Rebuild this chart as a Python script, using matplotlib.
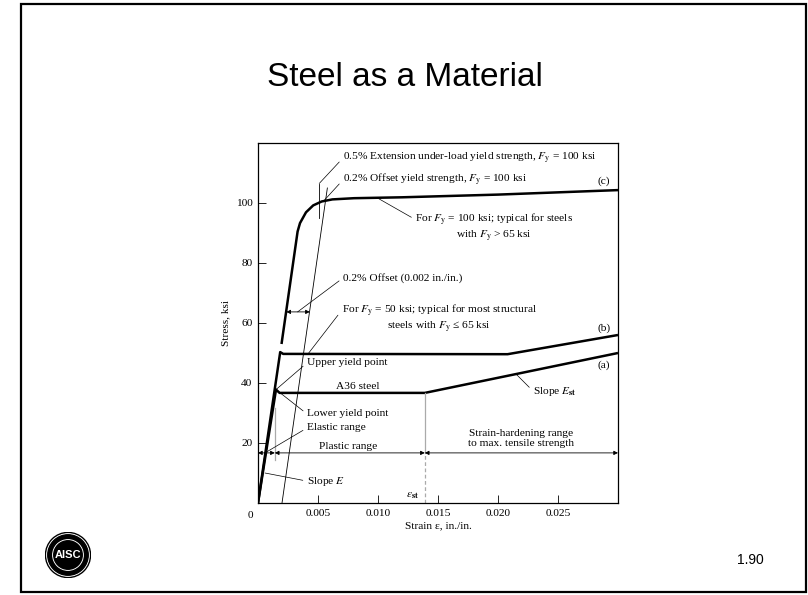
import matplotlib
matplotlib.use("Agg")
import matplotlib.pyplot as plt
from matplotlib.patches import Rectangle, Circle

plt.rcParams['font.family'] = ['Liberation Serif', 'DejaVu Serif']
plt.rcParams['mathtext.fontset'] = 'stix'

# stress-strain curves (strain in./in., stress ksi)
a36_strain = [0, 0.0015, 0.0018, 0.0139, 0.030]
a36_stress = [0, 37.8, 36.7, 36.7, 50.0]

fy50_strain = [0, 0.00185, 0.0021, 0.0208, 0.030]
fy50_stress = [0, 50.3, 49.7, 49.6, 56.0]

fy100_strain = [0.00196, 0.00330, 0.0035, 0.0040, 0.0046, 0.0053, 0.0062, 0.0080, 0.0120, 0.0200, 0.0300]
fy100_stress = [53.0, 90.5, 93.3, 96.9, 99.2, 100.5, 101.2, 101.6, 101.9, 102.8, 104.3]

offset_strain = [0.002, 0.00578]
offset_stress = [0, 105.0]

x_ticks = [0.005, 0.010, 0.015, 0.020, 0.025]
x_ticklabels = ['0.005', '0.010', '0.015', '0.020', '0.025']
y_ticks = [20, 40, 60, 80, 100]

eps_st = 0.0139
eps_el = 0.0014
range_y = 16.7

fig = plt.figure(figsize=(8.08, 5.95), dpi=100)

# slide frame
fig.patches.append(Rectangle((21 / 808, 3 / 595), 785 / 808, 588 / 595, transform=fig.transFigure,
                             fill=False, edgecolor='black', linewidth=1.6))
fig.text(405 / 808, 1 - 78 / 595, 'Steel as a Material', family='Liberation Sans',
         fontsize=24, ha='center', va='center')
fig.text(750 / 808, 1 - 560 / 595, '1.90', family='Liberation Sans', fontsize=10,
         ha='center', va='center')

# logo
lax = fig.add_axes([45 / 808, 1 - 578 / 595, 46 / 808, 46 / 595])
lax.set_xlim(-1, 1)
lax.set_ylim(-1, 1)
lax.set_aspect('equal')
lax.axis('off')
lax.add_patch(Circle((0, 0), 0.98, color='black'))
lax.add_patch(Circle((0, 0), 0.92, color='white'))
lax.add_patch(Circle((0, 0), 0.88, color='black'))
lax.add_patch(Circle((0, 0), 0.66, color='white'))
lax.add_patch(Circle((0, 0), 0.62, color='black'))
lax.text(0, -0.02, 'AISC', color='white', fontsize=8, fontweight='bold', family='Liberation Sans',
         ha='center', va='center')

ax = fig.add_axes([258 / 808, 1 - 503 / 595, 360 / 808, 360 / 595])
ax.set_xlim(0, 0.030)
ax.set_ylim(0, 120)

bold = dict(color='black', lw=1.8, solid_capstyle='butt', solid_joinstyle='round')
ax.plot(a36_strain, a36_stress, **bold)
ax.plot(fy50_strain, fy50_stress, **bold)
ax.plot(fy100_strain, fy100_stress, **bold)
ax.plot(offset_strain, offset_stress, color='black', lw=0.6)

# 0.5% extension marker
ax.plot([0.0051, 0.0051], [95, 106.5], color='black', lw=0.6)

# limit markers
ax.plot([eps_el, eps_el], [14.3, 31.7], color='#aaaaaa', lw=0.9)
ax.plot([eps_st, eps_st], [range_y, 36.7], color='#aaaaaa', lw=0.9)
ax.plot([eps_st, eps_st], [0, range_y], color='#aaaaaa', lw=0.9, ls=(0, (3, 2)))

# range arrows
arr = dict(arrowstyle='<|-|>', color='black', lw=0.6, mutation_scale=6, shrinkA=0, shrinkB=0)
ax.annotate('', xy=(0, range_y), xytext=(eps_el, range_y), arrowprops=arr)
ax.annotate('', xy=(eps_el, range_y), xytext=(eps_st, range_y), arrowprops=arr)
ax.annotate('', xy=(eps_st, range_y), xytext=(0.030, range_y), arrowprops=arr)
ax.annotate('', xy=(0.00236, 63.7), xytext=(0.00432, 63.7), arrowprops=arr)

fs = 8.2
lead = dict(arrowstyle='-', color='black', lw=0.5, shrinkA=1, shrinkB=0, relpos=(0, 0.5))

def note(txt, xy, xytext, ha='left', relpos=(0, 0.5)):
    p = dict(lead)
    p['relpos'] = relpos
    ax.annotate(txt, xy=xy, xytext=xytext, fontsize=fs, ha=ha, va='center',
                multialignment='center', linespacing=1.1, arrowprops=p)

note('0.5% Extension under-load yield strength, $F_{\\mathrm{y}}$ = 100 ksi', (0.0051, 106.5), (0.00708, 115))
note('0.2% Offset yield strength, $F_{\\mathrm{y}}$ = 100 ksi', (0.0055, 100.8), (0.00708, 107.7))
note('For $F_{\\mathrm{y}}$ = 100 ksi; typical for steels\nwith $F_{\\mathrm{y}}$ > 65 ksi', (0.0099, 101.8),
     (0.0197, 91.8), ha='center', relpos=(0, 0.75))
note('0.2% Offset (0.002 in./in.)', (0.0033, 63.7), (0.00708, 75))
note('For $F_{\\mathrm{y}}$ = 50 ksi; typical for most structural\nsteels with $F_{\\mathrm{y}}$ \u2264 65 ksi',
     (0.00417, 49.7), (0.0151, 61.5), ha='center', relpos=(0, 0.75))
note('Upper yield point', (0.0015, 37.8), (0.00408, 46.7))
note('Lower yield point', (0.0015, 37.8), (0.00408, 29.7))
note('Elastic range', (0.00058, 16.7), (0.00408, 25))
note('Slope $E$', (0.00058, 10), (0.00408, 7.3))
note('Slope $E_{\\mathbf{st}}$', (0.0215, 43.0), (0.02292, 37.3))

ax.text(0.0288, 107.3, '(c)', fontsize=fs, ha='center', va='center')
ax.text(0.0288, 58.3, '(b)', fontsize=fs, ha='center', va='center')
ax.text(0.0288, 46.0, '(a)', fontsize=fs, ha='center', va='center')
ax.text(0.00833, 38.9, 'A36 steel', fontsize=fs, ha='center', va='center')
ax.text(0.0075, 18.9, 'Plastic range', fontsize=fs, ha='center', va='center')
ax.text(0.0219, 21.6, 'Strain-hardening range\nto max. tensile strength', fontsize=fs,
        ha='center', va='center', linespacing=1.15)
ax.text(0.01345, 2.4, '$\\varepsilon_{\\mathbf{st}}$', fontsize=fs, ha='right', va='center')

ax.set_xticks(x_ticks)
ax.set_xticklabels(x_ticklabels)
ax.set_yticks(y_ticks)
ax.tick_params(direction='in', length=6, width=0.6, labelsize=fs, pad=4)
ax.text(-0.0004, -2.5, '0', fontsize=fs, ha='right', va='top')
for s in ax.spines.values():
    s.set_linewidth(0.9)
ax.set_xlabel('Strain \u03b5, in./in.', fontsize=fs, labelpad=3)
ax.set_ylabel('Stress, ksi', fontsize=fs, labelpad=4)

fig.savefig('out.png', dpi=100)
